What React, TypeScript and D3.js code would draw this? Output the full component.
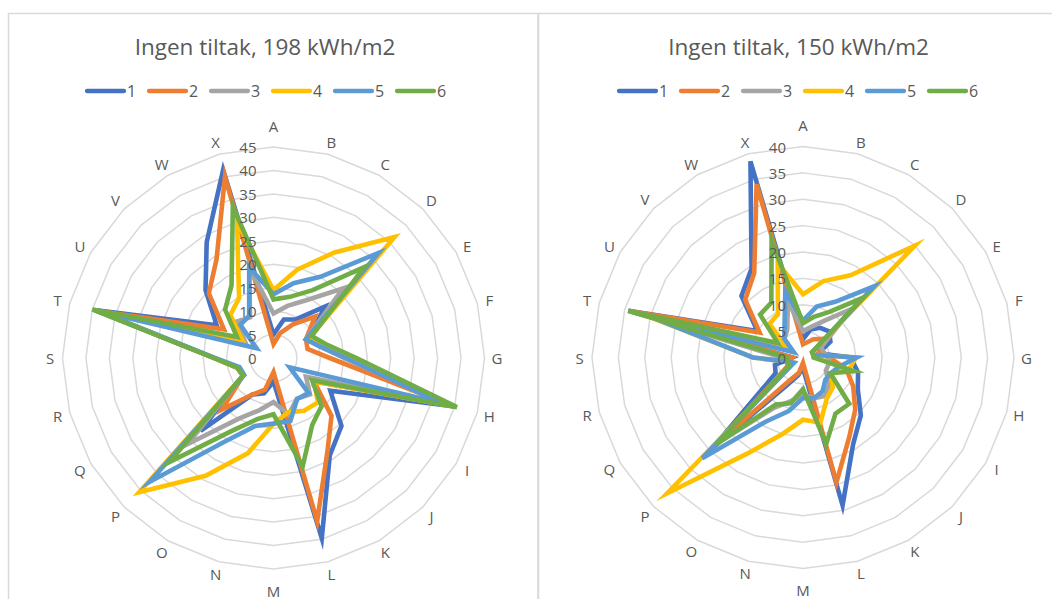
import React from "react";
import * as d3 from "d3";

const categories = ["A","B","C","D","E","F","G","H","I","J","K","L","M","N","O","P","Q","R","S","T","U","V","W","X"];
const seriesNames = ["1", "2", "3", "4", "5", "6"];
const seriesColors = ["#4472C4", "#ED7D31", "#A5A5A5", "#FFC000", "#5B9BD5", "#70AD47"];

// Ingen tiltak, 198 kWh/m2
const left1 = [5, 8.5, 9.5, 15.5, 9, 11, 16, 40, 14, 20.5, 24, 39.8, 5, 7.8, 9, 22, 7.5, 8, 12.7, 39.5, 14, 20.5, 28.5, 41.5];
const left2 = [3, 5.5, 8.3, 12.5, 8, 7.5, 12, 39.5, 10, 17.5, 23, 36, 3, 7, 9, 15.5, 7.5, 8, 12.7, 39, 12.2, 19.5, 24.3, 40];
const left3 = [9.5, 11.5, 14.3, 21, 8, 10, 15, 39.5, 8, 11, 10, 12.5, 9.4, 11.5, 15, 26, 7.5, 8, 12.7, 39, 7, 11, 10, 20];
const left4 = [14.5, 19.5, 26, 36.5, 9, 10.5, 15.5, 40, 10, 13.4, 13, 12, 14, 21, 29, 40.5, 7.5, 8, 12.7, 38.5, 7.7, 13, 14.7, 30];
const left5 = [13.6, 16.5, 20, 31.7, 8, 10, 15.4, 37, 4, 10.6, 10.1, 13.9, 14, 15, 20.5, 37.3, 7.2, 7.5, 12.5, 38.5, 4.2, 10, 10.4, 20];
const left6 = [12.5, 13.5, 16.7, 27.4, 9.4, 11.5, 17.7, 40.5, 9.5, 14.5, 16.5, 24, 12, 13.5, 18, 31.4, 7.5, 8, 12.7, 40, 9, 14.6, 17.9, 33.5];
const leftTicks = [0, 5, 10, 15, 20, 25, 30, 35, 40, 45];

// Ingen tiltak, 150 kWh/m2
const right1 = [3.5, 5.5, 6.5, 7, 6, 3, 9, 10.8, 12, 15.5, 19, 29, 2, 3.5, 6, 24, 6, 5.5, 2, 34.3, 10, 16.5, 19.5, 38.5];
const right2 = [2.5, 3, 4, 5, 4, 3, 5, 8.5, 11, 14, 17.5, 24.5, 1, 3, 5, 23, 3.5, 3, 2, 34, 9.5, 15.5, 18.5, 34];
const right3 = [5, 6, 8, 13, 4, 4, 5, 5, 5, 7, 8.4, 8, 7, 8.5, 11, 23, 3, 3, 4, 33, 3, 5, 6, 11];
const right4 = [12, 15, 18, 30, 2, 2, 10, 9, 6, 8, 9, 12.8, 11.8, 15, 21, 36.4, 2, 3, 9.5, 31, 3.2, 9, 9.5, 18.5];
const right5 = [7, 10, 12.2, 19.1, 2, 2, 10.2, 7, 6, 6, 7.4, 8, 7.7, 10.5, 14, 27, 2, 3, 9.5, 30, 2, 5, 7, 13];
const right6 = [6.5, 8, 10, 16, 2, 2, 2, 10, 6, 12.4, 12.3, 17, 6, 9, 10.3, 23.3, 3, 3, 3, 34.3, 5.5, 11.5, 12, 23];
const rightTicks = [0, 5, 10, 15, 20, 25, 30, 35, 40];

const FONT = "'Open Sans', 'Noto Sans', sans-serif";
const TEXT = "#595959";
const GRID = "#D9D9D9";

type RadarProps = {
  title: string;
  cx: number;
  cy: number;
  radius: number;
  ticks: number[];
  series: number[][];
  titleX: number;
  legendX: number;
};

function Radar({ title, cx, cy, radius, ticks, series, titleX, legendX }: RadarProps) {
  const max = ticks[ticks.length - 1];
  const r = d3.scaleLinear().domain([0, max]).range([0, radius]);
  const angle = d3
    .scalePoint<string>()
    .domain(categories)
    .range([0, 2 * Math.PI * (1 - 1 / categories.length)]);

  const ringLine = d3
    .lineRadial<string>()
    .angle((c) => angle(c)!)
    .radius(0)
    .curve(d3.curveLinearClosed);

  const seriesLine = d3
    .lineRadial<number>()
    .angle((_, i) => angle(categories[i])!)
    .radius((v) => r(v))
    .curve(d3.curveLinearClosed);

  // category labels sit just outside the outer ring; top and bottom ones a bit further out
  const labelPos = (c: string) => {
    const a = angle(c)!;
    const extra = Math.abs(Math.cos(a)) > 0.99 ? 9 : 0;
    const lr = radius + 12.5 + extra;
    return [cx + Math.sin(a) * lr, cy - Math.cos(a) * lr];
  };

  return (
    <g>
      <text x={titleX} y={55} textAnchor="middle" fontFamily={FONT} fontSize={22.5} fill={TEXT}>
        {title}
      </text>
      <g>
        {seriesNames.map((name, i) => {
          const x0 = legendX + i * 62;
          return (
            <g key={name}>
              <line x1={x0} x2={x0 + 37} y1={91} y2={91} stroke={seriesColors[i]} strokeWidth={4.3} strokeLinecap="round" />
              <text x={x0 + 40} y={97} fontFamily={FONT} fontSize={16} fill={TEXT}>
                {name}
              </text>
            </g>
          );
        })}
      </g>
      <g transform={`translate(${cx},${cy})`}>
        {ticks.slice(1).map((t) => (
          <path
            key={t}
            d={ringLine.radius(r(t))(categories) ?? ""}
            fill="none"
            stroke={GRID}
            strokeWidth={1.5}
          />
        ))}
      </g>
      {categories.map((c) => {
        const [x, y] = labelPos(c);
        return (
          <text key={c} x={x} y={y} textAnchor="middle" dominantBaseline="central" fontFamily={FONT} fontSize={15} fill={TEXT}>
            {c}
          </text>
        );
      })}
      <g transform={`translate(${cx},${cy})`}>
        {series.map((vals, i) => (
          <path
            key={i}
            d={seriesLine(vals) ?? ""}
            fill="none"
            stroke={seriesColors[i]}
            strokeWidth={4.6}
            strokeLinejoin="miter"
            strokeMiterlimit={6}
          />
        ))}
      </g>
      {ticks.map((t) => (
        <text
          key={t}
          x={cx - 17}
          y={cy - r(t)}
          textAnchor="end"
          dominantBaseline="central"
          fontFamily={FONT}
          fontSize={15}
          fill={TEXT}
        >
          {t}
        </text>
      ))}
    </g>
  );
}

export default function App() {
  return (
    <svg
      width={1052}
      height={599}
      style={{ position: "absolute", left: 0, top: 0, background: "#fff" }}
    >
      <rect x={0} y={0} width={1052} height={599} fill="#fff" />
      <rect x={8.5} y={13.5} width={529.5} height={620} fill="none" stroke={GRID} strokeWidth={1.5} />
      <rect x={538.5} y={13.5} width={540} height={620} fill="none" stroke={GRID} strokeWidth={1.5} />
      <Radar
        title="Ingen tiltak, 198 kWh/m2"
        cx={273.5}
        cy={358}
        radius={211}
        ticks={leftTicks}
        series={[left1, left2, left3, left4, left5, left6]}
        titleX={265}
        legendX={87}
      />
      <Radar
        title="Ingen tiltak, 150 kWh/m2"
        cx={803}
        cy={357.5}
        radius={211}
        ticks={rightTicks}
        series={[right1, right2, right3, right4, right5, right6]}
        titleX={798.5}
        legendX={619}
      />
    </svg>
  );
}
